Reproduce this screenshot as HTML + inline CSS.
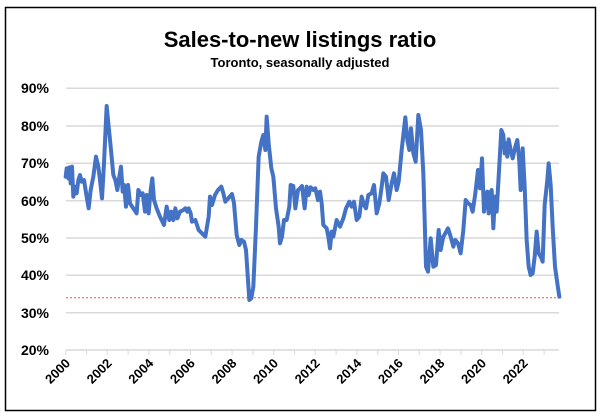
<!DOCTYPE html>
<html><head><meta charset="utf-8"><style>
html,body{margin:0;padding:0;background:#fff;}
svg{display:block;font-family:"Liberation Sans",sans-serif;}
</style></head><body>
<svg width="601" height="416" viewBox="0 0 601 416" xmlns="http://www.w3.org/2000/svg">
<rect x="5.5" y="7.5" width="590" height="403" fill="#fff" stroke="#000" stroke-width="1.5"/>
<text x="300" y="47" text-anchor="middle" font-size="22" font-weight="bold" fill="#000">Sales-to-new listings ratio</text>
<text x="300" y="67" text-anchor="middle" font-size="13" font-weight="bold" fill="#000">Toronto, seasonally adjusted</text>
<g stroke="#d9d9d9" stroke-width="1.5">
<line x1="66" x2="559" y1="88.3" y2="88.3"/>
<line x1="66" x2="559" y1="126" y2="126"/>
<line x1="66" x2="559" y1="163.3" y2="163.3"/>
<line x1="66" x2="559" y1="200.7" y2="200.7"/>
<line x1="66" x2="559" y1="238" y2="238"/>
<line x1="66" x2="559" y1="275.3" y2="275.3"/>
<line x1="66" x2="559" y1="312.7" y2="312.7"/>
<line x1="66" x2="559" y1="350" y2="350"/>
</g>
<g stroke="#d9d9d9" stroke-width="1">
<line x1="65.7" x2="65.7" y1="350" y2="355"/><line x1="86.5" x2="86.5" y1="350" y2="355"/><line x1="107.3" x2="107.3" y1="350" y2="355"/><line x1="128.1" x2="128.1" y1="350" y2="355"/><line x1="148.9" x2="148.9" y1="350" y2="355"/><line x1="169.7" x2="169.7" y1="350" y2="355"/><line x1="190.5" x2="190.5" y1="350" y2="355"/><line x1="211.3" x2="211.3" y1="350" y2="355"/><line x1="232.1" x2="232.1" y1="350" y2="355"/><line x1="252.9" x2="252.9" y1="350" y2="355"/><line x1="273.7" x2="273.7" y1="350" y2="355"/><line x1="294.5" x2="294.5" y1="350" y2="355"/><line x1="315.3" x2="315.3" y1="350" y2="355"/><line x1="336.1" x2="336.1" y1="350" y2="355"/><line x1="356.9" x2="356.9" y1="350" y2="355"/><line x1="377.7" x2="377.7" y1="350" y2="355"/><line x1="398.5" x2="398.5" y1="350" y2="355"/><line x1="419.3" x2="419.3" y1="350" y2="355"/><line x1="440.1" x2="440.1" y1="350" y2="355"/><line x1="460.9" x2="460.9" y1="350" y2="355"/><line x1="481.7" x2="481.7" y1="350" y2="355"/><line x1="502.5" x2="502.5" y1="350" y2="355"/><line x1="523.3" x2="523.3" y1="350" y2="355"/><line x1="544.1" x2="544.1" y1="350" y2="355"/>
</g>
<g font-size="14" font-weight="bold" text-anchor="end" fill="#000">
<text x="49" y="93">90%</text><text x="49" y="131">80%</text><text x="49" y="168">70%</text><text x="49" y="206">60%</text><text x="49" y="243">50%</text><text x="49" y="280">40%</text><text x="49" y="318">30%</text><text x="49" y="355">20%</text>
</g>
<g font-size="13" font-weight="bold" text-anchor="end" fill="#000">
<text transform="translate(71,364) rotate(-45)">2000</text>
<text transform="translate(112.6,364) rotate(-45)">2002</text>
<text transform="translate(154.2,364) rotate(-45)">2004</text>
<text transform="translate(195.8,364) rotate(-45)">2006</text>
<text transform="translate(237.4,364) rotate(-45)">2008</text>
<text transform="translate(279,364) rotate(-45)">2010</text>
<text transform="translate(320.6,364) rotate(-45)">2012</text>
<text transform="translate(362.2,364) rotate(-45)">2014</text>
<text transform="translate(403.8,364) rotate(-45)">2016</text>
<text transform="translate(445.4,364) rotate(-45)">2018</text>
<text transform="translate(487,364) rotate(-45)">2020</text>
<text transform="translate(528.6,364) rotate(-45)">2022</text>
</g>
<line x1="66" x2="559" y1="297.7" y2="297.7" stroke="#ff4d4d" stroke-width="1" stroke-dasharray="2,2"/>
<g fill="none" stroke="#4472c4" stroke-width="4" stroke-linejoin="round" stroke-linecap="round">
<polyline transform="translate(40,80) scale(0.33333)" vector-effect="non-scaling-stroke" points="77,290 80,265 85,295 88,262 92,310 96,260 100,350 105,320 110,340 115,300 120,285 125,305 132,300 140,350 146,385 152,330 160,290 168,230 175,260 180,300 186,355 192,250 200,78 205,130 212,200 220,285 226,300 232,330 238,290 243,260 248,335 252,315 258,380 264,315 270,370 280,385 290,400 295,330 303,345 308,340 315,395 320,345 326,400 332,330 337,295 342,360 350,385 360,410 372,435 380,380 388,420 394,395 400,420 406,385 412,415 420,395 430,390 436,385 442,395 446,385 452,400 456,425 466,420 476,450 486,460 496,470 506,410 510,350 516,375 525,345 534,330 544,320 550,340 556,365 565,355 576,342 582,370 590,465 598,495 604,480 612,485 618,510 624,600 628,660 634,655 640,620 648,440 656,230 664,185 670,165 676,210 680,110 686,190 694,265 700,290 708,385 716,440 720,490 726,470 732,420 740,420 748,380 752,315 760,318 766,385 774,330 780,325 786,318 794,385 800,320 806,345 812,322 820,330 826,325 834,360 840,340"/>
<polyline transform="translate(300,80) scale(0.33333)" vector-effect="non-scaling-stroke" points="60,335 65,370 70,435 80,445 85,470 90,505 95,455 100,470 110,420 120,440 130,415 138,385 148,365 155,380 162,365 170,420 178,410 185,350 192,375 198,385 205,345 215,340 222,315 230,400 238,370 245,320 250,280 258,290 266,360 275,310 282,280 290,330 296,305 305,210 316,112 322,180 328,210 333,145 340,220 347,245 355,105 363,150 370,280 378,560 384,575 392,475 400,560 408,555 416,450 422,510 430,470 436,460 444,445 452,470 460,500 466,480 474,490 482,520 490,450 497,360 504,370 512,375 518,395 526,340 534,270 540,325 546,235 552,395 558,345 562,335 566,400 570,340 575,330 580,445 585,350 590,395 596,290 604,150 610,165 614,220 618,190 622,230 626,178 632,210 638,235 646,200 652,180 658,245 662,330 668,205 674,320 680,480 686,560 692,585 698,580 704,530 710,455 716,520 722,530 728,545 734,375 742,300 746,250 752,315 758,440 765,560 772,610 778,650"/>
</g>
</svg>
</body></html>
